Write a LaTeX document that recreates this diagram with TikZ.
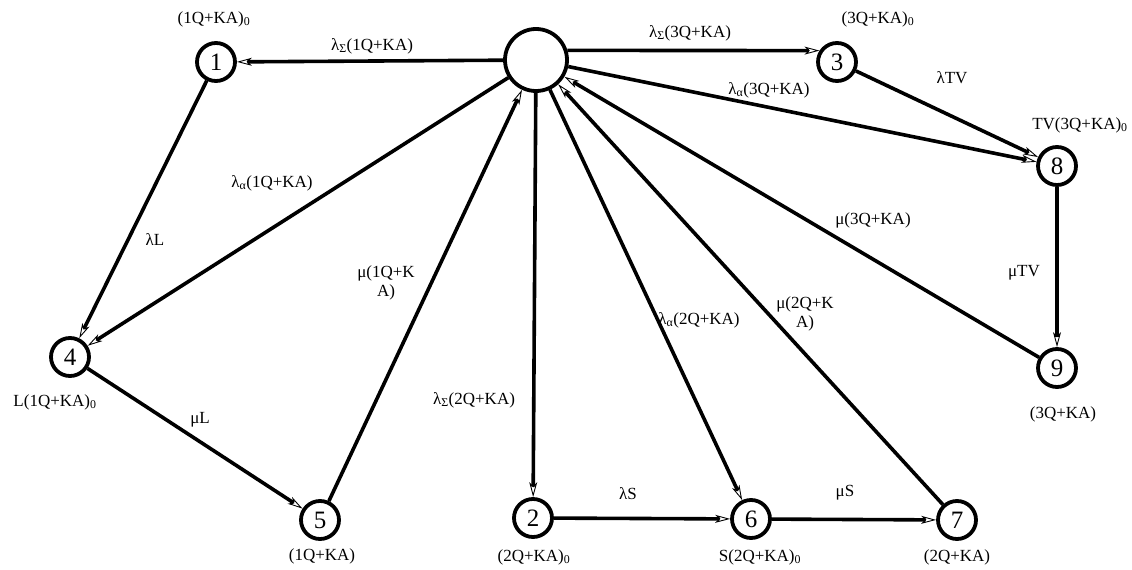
\documentclass[tikz,border=0pt]{standalone}
\usepackage{fontspec}
\setmainfont{Liberation Serif}
\usetikzlibrary{arrows.meta}
\begin{document}
\begin{tikzpicture}[x=1pt,y=-1pt,
  st/.style={circle,draw,line width=3.8pt,minimum size=38pt,inner sep=0pt,font=\fontsize{25}{25}\selectfont},
  hub/.style={circle,draw,line width=3.8pt,minimum size=62pt,inner sep=0pt},
  lbl/.style={font=\fontsize{17}{19}\selectfont,inner sep=1pt,align=center},
  ed/.style={line width=3.6pt,-{Stealth[length=15pt,width=8pt,inset=4pt,line width=0.9pt,open]}}]
\useasboundingbox (0,0) rectangle (1132,570);
\node[hub] (C) at (536,60) {};
\node[st] (n1) at (216,62) {\raisebox{-3pt}{1}};
\node[st] (n3) at (837,62) {\raisebox{-3pt}{3}};
\node[st] (n8) at (1057,166) {\raisebox{-4pt}{8}};
\node[st] (n9) at (1057,368) {\raisebox{-3pt}{9}};
\node[st] (n4) at (70,357) {\raisebox{-4pt}{4}};
\node[st] (n5) at (320,520) {\raisebox{-4pt}{5}};
\node[st] (n2) at (533,518) {\raisebox{-2pt}{2}};
\node[st] (n6) at (751,519) {\raisebox{-2pt}{6}};
\node[st] (n7) at (957,520) {\raisebox{-2pt}{7}};

\draw[ed] (C) -- (n1);
\draw[ed] (C.17) -- (n3.147);
\draw[ed] (C) -- (n8);
\draw[ed] (n3) -- (n8);
\draw[ed] (n8) -- (n9);
\draw[ed] (n9) -- (C);
\draw[ed] (n1) -- (n4);
\draw[ed] (C) -- (n4);
\draw[ed] (n4) -- (n5);
\draw[ed] (n5) -- (C);
\draw[ed] (C) -- (n2);
\draw[ed] (n2) -- (n6);
\draw[ed] (C) -- (n6);
\draw[ed] (n6) -- (n7);
\draw[ed] (n7) -- (C);

\node[lbl] (t1) at (214,19) {(1Q+KA)\textsubscript{0}};
\node[lbl] (t3) at (878,19) {(3Q+KA)\textsubscript{0}};
\node[lbl] (t8) at (1080,125) {TV(3Q+KA)\textsubscript{0}};
\node[lbl] (t9) at (1063,414) {(3Q+KA)};
\node[lbl] (t4) at (55,402) {L(1Q+KA)\textsubscript{0}};
\node[lbl] (t5) at (322,556) {(1Q+KA)};
\node[lbl] (t2) at (534,557) {(2Q+KA)\textsubscript{0}};
\node[lbl] (t6) at (760,557) {S(2Q+KA)\textsubscript{0}};
\node[lbl] (t7) at (957,557) {(2Q+KA)};

\node[lbl] (e1) at (372,46) {λ\textsubscript{Σ}(1Q+KA)};
\node[lbl] (e2) at (690,33) {λ\textsubscript{Σ}(3Q+KA)};
\node[lbl] (e3) at (769,90) {λ\textsubscript{α}(3Q+KA)};
\node[lbl] (e4) at (952,78) {λTV};
\node[lbl] (e5) at (155,240) {λL};
\node[lbl] (e6) at (272,183) {λ\textsubscript{α}(1Q+KA)};
\node[lbl] (e7) at (386,283) {μ(1Q+K\\A)};
\node[lbl] (e8) at (699,320) {λ\textsubscript{α}(2Q+KA)};
\node[lbl] (e9) at (805,314) {μ(2Q+K\\A)};
\node[lbl] (e10) at (873,220) {μ(3Q+KA)};
\node[lbl] (e11) at (1024,273) {μTV};
\node[lbl] (e12) at (474,400) {λ\textsubscript{Σ}(2Q+KA)};
\node[lbl] (e13) at (200,420) {μL};
\node[lbl] (e14) at (628,494) {λS};
\node[lbl] (e15) at (845,493) {μS};
\end{tikzpicture}
\end{document}
